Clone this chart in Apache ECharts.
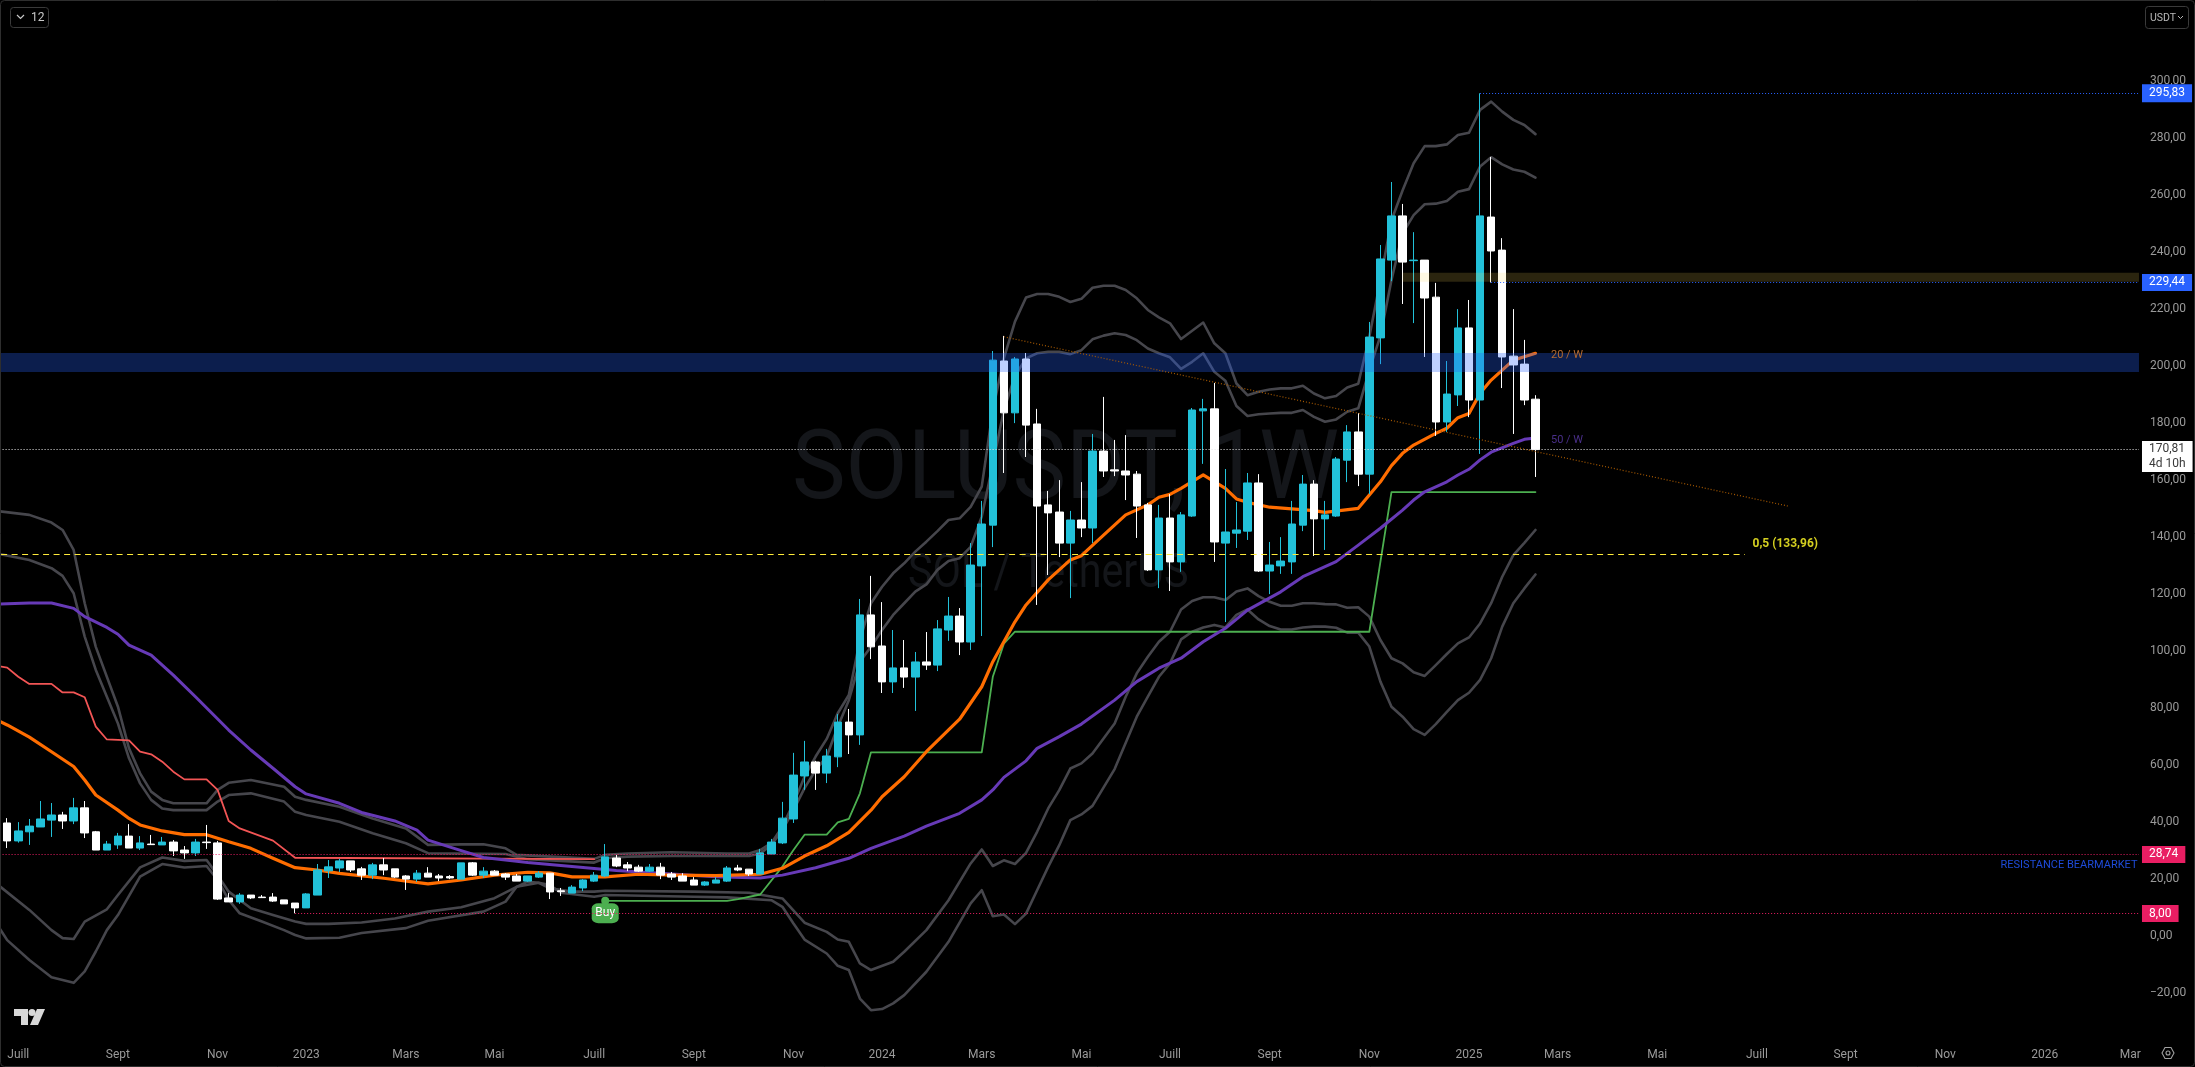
<!DOCTYPE html>
<html>
<head>
<meta charset="utf-8">
<style>html,body{margin:0;padding:0;background:#000;overflow:hidden}#c{width:2195px;height:1067px}</style>
<script src="https://cdn.jsdelivr.net/npm/echarts@6/dist/echarts.min.js"></script>
</head>
<body>
<div id="c"></div>
<script>
const opens=[39.1,32.8,36.0,37.7,40.1,41.9,39.8,44.4,36.0,29.6,
31.4,34.5,30.3,31.7,31.4,32.4,29.6,28.6,32.4,32.1,
12.8,11.4,13.8,13.1,13.1,12.1,11.0,9.3,13.8,22.3,
23.3,25.8,23.0,20.8,24.4,23.0,20.5,19.4,21.5,20.5,
20.3,19.4,25.1,20.8,22.2,21.2,20.5,18.7,20.1,21.5,
15.3,14.5,16.3,18.7,20.5,26.8,24.4,23.6,22.2,23.6,
21.2,20.5,19.1,17.3,18.0,18.7,23.3,22.9,21.2,28.2,
32.1,40.5,55.6,60.5,56.6,62.3,74.5,70.0,112.1,101.2,
88.6,93.5,90.3,95.6,94.5,106.8,111.7,102.6,129.3,143.6,
201.2,183.0,201.9,179.1,150.7,148.2,137.3,145.4,142.6,169.6,
163.0,162.6,161.5,150.7,127.9,146.1,130.7,146.8,183.7,184.4,
137.3,140.8,141.5,158.4,127.5,129.3,130.7,143.6,158.0,145.8,
146.8,166.4,176.3,161.5,209.3,236.6,252.1,236.4,236.6,223.6,
179.8,189.3,212.8,187.5,251.7,240.1,202.9,200.1,187.8];
const closes=[32.8,36.3,38.0,40.5,41.9,39.8,44.4,35.6,29.6,31.7,
34.5,30.3,32.1,31.5,32.4,29.3,28.6,32.4,32.2,12.4,
11.4,13.8,12.8,12.9,11.7,10.7,9.3,14.2,22.6,23.7,
25.8,22.6,20.8,24.4,22.6,20.1,19.4,21.5,20.1,19.8,
19.8,25.1,20.8,22.2,20.8,20.1,18.7,20.5,21.5,14.9,
15.0,16.6,19.1,20.8,27.2,24.0,23.3,22.2,23.6,20.8,
20.1,18.7,17.3,18.4,19.1,23.3,22.6,21.2,28.6,32.4,
40.8,55.9,60.5,56.6,62.6,74.5,70.0,112.1,100.9,88.6,
93.5,90.3,95.6,94.5,107.2,111.7,102.6,129.6,144.0,201.5,
183.0,201.9,178.7,150.3,147.9,137.3,145.4,142.6,169.6,162.6,
162.6,161.2,150.3,127.9,146.1,130.7,147.2,184.0,184.4,137.7,
141.2,141.9,158.4,127.5,129.6,131.0,144.0,158.0,145.8,147.2,
166.8,176.3,161.5,209.6,237.0,252.1,235.9,236.6,223.3,179.8,
189.6,212.8,187.5,252.1,239.8,202.6,199.8,187.5,170.11];
const lows=[30.3,32.2,31.4,37.7,34.2,37.0,38.7,33.8,29.6,29.6,
30.0,30.3,29.6,31.4,31.4,27.5,26.5,27.5,30.0,12.1,
11.4,10.7,12.4,12.8,11.4,10.7,7.4,9.3,13.8,19.8,
21.9,21.9,19.1,19.4,20.8,19.8,15.6,18.4,20.1,18.7,
19.4,19.4,20.5,19.8,20.8,19.1,18.7,18.4,19.8,12.4,
13.5,14.5,15.2,18.4,20.1,23.6,22.2,21.9,21.9,19.4,
19.1,18.7,17.3,17.0,18.0,18.4,22.2,20.5,21.2,28.2,
31.7,39.1,50.7,50.7,53.1,58.7,63.3,66.5,96.6,84.7,
84.7,86.5,78.4,92.8,92.4,103.0,98.0,99.8,104.7,135.9,
161.9,179.4,167.5,115.6,126.1,132.4,118.0,139.4,137.3,160.5,
160.8,152.4,139.1,127.5,121.5,120.5,127.2,146.5,165.1,130.7,
109.6,135.6,138.4,127.2,119.4,126.5,126.5,141.5,132.8,134.9,
146.5,158.7,157.3,154.5,200.1,229.2,221.2,214.5,202.6,174.9,
176.3,185.4,181.5,168.6,228.74,191.7,175.6,185.7,160.5];
const highs=[40.8,39.4,40.5,46.8,46.1,43.0,47.9,46.8,36.3,32.8,
35.6,38.7,34.5,34.9,34.2,33.1,31.0,33.5,38.4,32.8,
14.5,14.5,13.8,13.8,14.5,12.1,11.0,14.5,24.7,26.1,
26.5,25.8,23.7,25.1,26.8,23.0,20.8,22.6,23.6,21.2,
20.8,25.1,25.4,23.6,22.6,21.5,21.2,20.5,22.2,21.5,
16.3,17.3,19.4,21.9,31.7,27.9,25.4,24.4,24.7,25.1,
21.9,21.5,20.1,18.7,20.1,24.0,24.4,22.9,30.0,33.5,
46.5,63.7,67.9,60.9,65.1,77.3,79.1,117.7,125.8,116.6,
106.8,103.3,99.1,106.1,110.3,118.4,114.5,137.3,152.1,204.7,
210.0,202.6,204.0,184.4,155.6,159.4,148.6,158.7,175.6,188.6,
173.5,175.2,162.6,151.4,150.7,154.5,148.2,184.7,187.9,193.5,
163.3,151.7,161.9,161.5,137.7,139.4,152.1,161.2,159.4,152.1,
167.5,178.7,182.9,214.9,241.9,264.0,256.3,246.4,236.6,228.6,
201.2,219.4,222.6,295.13,272.8,244.3,219.4,208.6,189.2];

// indicator lines: [week index, value]
const ema20=[[-1,75.3],[0,73.5],[2,69.2],[4,64.1],[6,58.9],[7,54.2],[8,48.9],[10,43.6],[11,40.7],[12,38.4],[14,36.3],[16,35],[18,35],[20,32.5],[22,30.2],[24,26.7],[26,23.4],[28,22.6],[30,21.4],[34,19.7],[38,17.7],[41,19.1],[44,20.8],[47,21.8],[49,21.6],[51,20.2],[54,20.2],[57,21.1],[60,20.8],[64,20.6],[68,21.1],[70,23.2],[72,27.5],[74,31.1],[76,35.8],[78,43.6],[79,48.3],[81,55.3],[83,64.1],[86,75.5],[88,86.9],[89,95.7],[91,109.7],[92,115.6],[94,124.4],[96,131.4],[97,132.9],[99,140.1],[101,147.2],[103,150.7],[104,153.4],[105,154.4],[106,156.5],[108,161.2],[110,156.5],[111,152.8],[112,151.6],[114,149.9],[116,149.3],[118,148.7],[119,148.1],[122,149.5],[123,154.2],[124,158.8],[125,164.5],[126,168.8],[127,171.7],[129,175.8],[130,177.6],[131,181.3],[132,182.8],[133,189.9],[134,194.5],[135,198],[136,201.5],[137,202.7],[138,203.9]];
const ema50=[[-1,115.9],[2,116.3],[4,116.3],[6,114.4],[7,111.5],[9,107.7],[10,105.3],[11,101.5],[13,98],[15,91],[17,83.4],[20,71.7],[22,64.7],[24,58.3],[26,51.8],[27,49.3],[30,46],[32,42.8],[35,39.8],[37,36.6],[38,33.1],[41,29.4],[43,27],[47,25.2],[51,23.8],[55,22.4],[60,21.2],[64,20.2],[68,19.8],[70,20.8],[73,23.4],[76,26.7],[78,30.2],[81,34.5],[83,38],[86,42.5],[88,47.2],[89,50.7],[90,55.1],[92,60.9],[93,65.3],[95,69.4],[97,73.8],[100,82.2],[102,88.7],[104,93.4],[106,96.9],[108,102.7],[110,107.4],[112,113.8],[115,120.2],[117,125.5],[120,130.8],[122,136.6],[124,142.5],[126,148.9],[127,152.4],[128,155.3],[130,158.8],[131,161.2],[132,163.2],[133,166.5],[134,169.2],[136,172.3],[137,173.7],[138,174.2]];
const resistanceLine=[[-1,94.3],[0,93.6],[1,90.4],[2,87.9],[4,87.9],[5,84.9],[6,84.9],[7,83.2],[8,72.9],[9,68.4],[11,68.1],[12,64.1],[13,63.2],[14,60.6],[15,57.1],[16,54.4],[18,54.4],[19,50.7],[20,39.8],[21,37.2],[24,32.9],[26,26.9],[53,26.4]];
const supportLine=[[54,11.8],[65,11.8],[66,12.4],[68,14],[70,23.8],[71,29.6],[72,35],[74,35],[75,39.3],[76,40.5],[77,49.5],[78,63.9],[88,63.9],[89,90.4],[90,102],[91,106.2],[123,106.2],[125,155.2],[138,155.2]];
const upperOuter=[[-1,148.6],[2,147.2],[4,144.5],[5,141.9],[6,134.9],[7,116.2],[8,100.9],[10,79.9],[11,65.3],[12,56.5],[13,50.1],[14,47.2],[15,46],[18,46],[19,50.7],[20,53.2],[22,54.2],[25,51.8],[26,48.3],[27,47.2],[30,44.8],[33,40.7],[36,37.2],[38,31.4],[41,31.6],[43,31.6],[45,30.2],[46,27.9],[53,26.5],[54,27.9],[56,28.4],[60,28.8],[65,28.4],[67,28.4],[68,29.6],[69,32],[70,37.8],[71,46],[72,55.3],[73,62.4],[74,68.6],[75,77.6],[76,84],[77,103.3],[78,116.2],[79,122],[80,126.7],[81,130.2],[82,134.3],[83,137.8],[84,141.5],[85,145.4],[86,146],[87,150],[88,157.1],[89,184],[90,202.1],[91,215],[92,223.5],[93,224.7],[94,224.7],[95,223.7],[96,221.9],[97,223],[98,226.9],[99,227.6],[100,227.6],[101,226.1],[102,223.2],[103,219.1],[104,216.5],[105,214.4],[106,208.9],[107,211.8],[108,214.7],[109,207.4],[110,203.9],[111,193.3],[112,189.2],[113,190.4],[114,191.2],[115,191.6],[116,191.6],[117,192.5],[118,189.8],[119,188.1],[120,188.9],[121,191.9],[122,193.2],[123,209.7],[124,229.6],[125,250.6],[126,261],[127,270.6],[128,276.6],[129,276.6],[130,277.2],[131,280.5],[132,281.3],[133,289.3],[134,292.2],[135,288.7],[136,285.8],[137,284],[138,280.8]];
const upperInner=[[-1,133.7],[2,131.4],[4,128.5],[5,125.8],[6,119.7],[7,104.5],[8,92.8],[10,74],[11,61.8],[12,53],[13,47.2],[14,44.2],[15,43.6],[18,43.6],[19,46.6],[20,48.9],[22,49.5],[25,46.6],[26,43],[27,41.9],[30,39.5],[33,35.5],[36,32],[38,28.5],[45,28.2],[47,26.4],[53,25.2],[54,26.7],[56,27.3],[60,27.5],[67,27.5],[68,28.4],[69,31.4],[70,36.6],[71,43.6],[72,51.3],[73,57.7],[74,62.4],[75,72.9],[76,82.2],[77,95.7],[78,100.9],[79,106.8],[80,112.1],[81,116.2],[82,120.3],[83,122.8],[84,127.9],[85,131],[86,132],[87,136],[88,146.6],[89,165],[90,184],[91,196],[92,202.1],[93,203.9],[94,204.4],[95,204.4],[96,203.6],[97,205],[98,208.8],[99,210.1],[100,210.9],[101,210.3],[102,208.5],[103,205.6],[104,203.9],[105,202.5],[106,198.4],[107,200.9],[108,203.9],[109,197.4],[110,194.3],[111,185.4],[112,181.9],[113,182.5],[114,182.8],[115,183],[116,183],[117,184],[118,181.6],[119,179.9],[120,180.7],[121,183.4],[122,184.6],[123,198],[124,210],[125,229.6],[126,246],[127,252.4],[128,256.2],[129,256.4],[130,257.3],[131,260.6],[132,261.5],[133,269.4],[134,272.7],[135,270.2],[136,268.4],[137,267.6],[138,265.5]];
const lowerInner=[[-1,17.9],[2,8.6],[4,1.5],[5,-1.3],[6,-1.6],[7,4.5],[9,8.8],[10,13.8],[12,23.5],[14,27],[16,25.8],[18,26.1],[19,20.8],[20,15],[22,9.2],[24,6.8],[26,4.5],[27,3.7],[29,3.7],[32,4.2],[35,5.6],[38,8],[41,9.5],[44,12.7],[46,16.7],[47,18.5],[48,18.1],[49,16.2],[51,15],[53,15],[54,15.3],[62,15],[67,14.6],[70,12.6],[72,4.1],[74,0.9],[75,-1.8],[76,-2.6],[77,-10.2],[78,-12.5],[80,-9.6],[81,-6.1],[83,1.5],[85,12],[87,24.9],[88,29.8],[89,24],[90,26],[91,24.7],[92,28.6],[93,36],[94,44.2],[95,50.6],[96,58.2],[97,60],[98,63.5],[100,74],[101,83.4],[102,91.6],[103,97.4],[104,102.7],[105,106.2],[106,114],[107,117],[108,118.3],[109,118.3],[110,117.3],[111,120.3],[112,121.4],[113,118.7],[114,116.7],[115,115.3],[116,115.3],[117,116.2],[118,116.2],[119,115.9],[120,115.8],[121,114.6],[122,114.8],[123,111.5],[124,103.3],[125,96.9],[126,95.1],[127,92],[128,90.7],[129,94.5],[130,98.4],[131,102.1],[132,104.2],[133,109.1],[134,116.2],[135,125.5],[136,133.1],[137,137.4],[138,141.9]];
const lowerOuter=[[-1,4],[0,-2],[2,-9],[4,-15],[6,-17],[7,-13],[8,-6],[9,1.5],[10,6.8],[12,20.3],[14,24.7],[16,23.5],[18,24],[19,19.1],[20,12.1],[21,7.4],[23,4.5],[25,1.5],[26,-0.2],[27,-1.4],[30,-1.2],[32,0.5],[36,2.2],[38,4.8],[43,8],[45,11.5],[46,16.7],[48,18.1],[49,17.3],[50,14.6],[53,13.2],[54,13.8],[62,13.2],[65,13],[69,12],[70,9.7],[71,3.8],[72,-1.8],[74,-6.7],[75,-11],[76,-12.5],[77,-22.5],[78,-26.6],[79,-26.2],[80,-24.2],[81,-21.3],[83,-13.1],[85,-2.6],[87,10.9],[88,15.5],[89,6.4],[90,7],[91,3.6],[92,7.3],[93,15.5],[94,23.7],[95,31.3],[96,40.1],[97,42.1],[98,45.1],[100,58],[102,76.4],[103,83.4],[104,90.4],[105,95.1],[106,103.5],[107,106.2],[108,107.7],[109,108.6],[110,107.7],[111,112.1],[112,114],[113,110.5],[114,108.2],[115,107],[116,107],[117,107.7],[118,108],[119,108],[120,107.6],[121,105.9],[122,105.9],[123,101],[124,88.7],[125,79.9],[126,76.4],[127,72],[128,70],[129,73.8],[130,78.1],[131,82.2],[132,84.8],[133,89.3],[134,96.9],[135,108],[136,116.2],[137,121.4],[138,126.3]];

const tickWeeks=[1,10,19,27,36,44,53,62,71,79,88,97,105,114,123,132,140,149,158,166,175,184,192];
const tickLabels=['Juill','Sept','Nov','2023','Mars','Mai','Juill','Sept','Nov','2024','Mars','Mai','Juill','Sept','Nov','2025','Mars','Mai','Juill','Sept','Nov','2026','Mars'];
const totalWeeks=194;
// all readings above were taken against the label centres, which sit slightly above the true price level
const READ_OFFSET=0.7;

const CYAN='#22C1D9', GREY='#46464c', AXIS='#9a9a9a';
const LEFT_EDGE=-1.5, RIGHT_EDGE=192.5;

const tickMap={};tickWeeks.forEach((w,k)=>{tickMap[w+1]=tickLabels[k];});
const categories=[];for(let i=0;i<totalWeeks;i++)categories.push(String(i));
const cal=(v)=>+(v+READ_OFFSET).toFixed(2);
const candles=[['-','-','-','-']].concat(opens.map((o,i)=>[cal(o),cal(closes[i]),cal(lows[i]),cal(highs[i])]));

function line(data,color,width,z){
  return {type:'line',xAxisIndex:1,yAxisIndex:0,data:data.map(p=>[p[0],cal(p[1])]),symbol:'none',smooth:false,silent:true,z:z||2,
    lineStyle:{color:color,width:width,join:'round',cap:'round'}};
}
function hLine(from,to,v,color,type,width){
  return [{coord:[from,v],lineStyle:{color:color,type:type,width:width||1}},{coord:[to,v]}];
}
function tag(v,text,bg,fg,pad){
  return {coord:[RIGHT_EDGE,v],symbol:'circle',symbolSize:0,itemStyle:{color:'rgba(0,0,0,0)'},
    label:{show:true,position:'right',distance:3,formatter:text,backgroundColor:bg,color:fg,
      fontFamily:'Roboto',fontSize:12,lineHeight:15,padding:pad,align:'left'}};
}
function note(i,v,text,color,pos,weight,size){
  return {coord:[i,v],symbol:'circle',symbolSize:0,itemStyle:{color:'rgba(0,0,0,0)'},
    label:{show:true,position:pos||'right',distance:0,formatter:text,color:color,fontFamily:'Roboto',
      fontSize:size||12,fontWeight:weight||'normal'}};
}

const option={
  animation:false,backgroundColor:'#000',
  grid:{left:-9.41,top:24.4,width:2148.4,height:1026,containLabel:false,outerBoundsMode:'none'},
  xAxis:[
    {type:'category',data:categories,boundaryGap:true,axisLine:{show:false},axisTick:{show:false},splitLine:{show:false},
     axisLabel:{interval:(idx)=>tickMap[idx]!==undefined,formatter:(v,idx)=>tickMap[idx]||'',
       color:(v,idx)=>/^20/.test(tickMap[idx]||'')?'#b8b8b8':AXIS,fontFamily:'Roboto',fontSize:12,margin:-1,hideOverlap:false}},
    {type:'value',show:false,min:LEFT_EDGE,max:RIGHT_EDGE,splitLine:{show:false}}
  ],
  yAxis:[{type:'value',position:'right',min:-40,max:320,interval:20,
    axisLine:{show:false},axisTick:{show:false},splitLine:{show:false},
    axisLabel:{margin:11,color:AXIS,fontFamily:'Roboto',fontSize:12,
      formatter:(v)=>(v===320||v===-40)?'':(v<0?'\u2212':'')+Math.abs(v).toFixed(2).replace('.',',')}}],
  series:[
    line(upperOuter,GREY,2.6),line(upperInner,GREY,2.6),line(lowerInner,GREY,2.6),line(lowerOuter,GREY,2.6),
    line(resistanceLine,'#F25555',1.8),line(supportLine,'#4CAF50',1.8),
    line(ema50,'#673AB7',3),line(ema20,'#FF6D00',3.2),
    {type:'candlestick',xAxisIndex:0,yAxisIndex:0,z:3,silent:true,barWidth:8,data:candles,
      itemStyle:{color:CYAN,color0:'#fff',borderColor:CYAN,borderColor0:'#fff',borderWidth:1}},
    {type:'line',xAxisIndex:1,yAxisIndex:0,data:[],z:5,silent:true,
      markArea:{silent:true,z:6,data:[
        [{coord:[LEFT_EDGE,204.7],itemStyle:{color:'rgba(41,98,255,0.3)'}},{coord:[RIGHT_EDGE,198]}],
        [{coord:[126,232.9],itemStyle:{color:'rgba(255,220,90,0.17)'}},{coord:[RIGHT_EDGE,229.7]}]
      ]},
      markLine:{silent:true,z:8,symbol:'none',label:{show:false},data:[
        hLine(133,RIGHT_EDGE,295.83,'#2962FF',[1,2]),
        hLine(134,RIGHT_EDGE,229.44,'#2962FF',[1,2]),
        hLine(LEFT_EDGE,RIGHT_EDGE,170.81,'#e8e8e8',[1,2]),
        hLine(LEFT_EDGE,156.9,133.96,'#FFEB3B',[6,4.5],1.2),
        hLine(LEFT_EDGE,RIGHT_EDGE,28.74,'#E91E63',[1,2]),
        hLine(26,RIGHT_EDGE,8,'#E91E63',[1,2]),
        [{coord:[90,210.4],lineStyle:{color:'#A85A00',type:[1,2],width:1.2}},{coord:[160.8,151]}]
      ]},
      markPoint:{silent:true,z:7,data:[
        {coord:[54,12.5],symbol:'circle',symbolSize:8,itemStyle:{color:'#4CAF50'},label:{show:false}},
        {coord:[54,8.1],symbol:'roundRect',symbolSize:[27,20],itemStyle:{color:'#4CAF50'},
          label:{show:true,position:'inside',formatter:'Buy',color:'#fff',fontFamily:'Roboto',fontSize:12}},
        note(139.4,204,'20 / W','#B56A30',null,null,11),
        note(139.4,174.2,'50 / W','#4A2F8A',null,null,11),
        note(157.6,137.8,'0,5 (133,96)','#D4CF20',null,'bold',12),
        note(180,25,'RESISTANCE BEARMARKET','#1E4BD8',null,null,11),
        tag(295.83,'295,83','#2962FF','#fff',[2,7,1,7]),
        tag(229.44,'229,44','#2962FF','#fff',[1,7,1,7]),
        tag(168.4,'170,81\n4d 10h','#fff','#3a3a3a',[1,7,0,7]),
        tag(28.74,'28,74','#E91E63','#fff',[1,7,1,7]),
        tag(8,'8,00','#E91E63','#fff',[1,7,1,7])
      ]}
    }
  ],
  graphic:[
    {type:'text',z:0,silent:true,x:792,y:474,scaleX:0.94,style:{text:'SOLUSDT, 1W',fill:'#14161a',font:'96px Roboto',textVerticalAlign:'middle'}},
    {type:'text',z:0,silent:true,x:908,y:575,scaleX:0.86,style:{text:'SOL / TetherUS',fill:'#14161a',font:'48px Roboto',textVerticalAlign:'middle'}},
    {type:'rect',z:20,silent:true,shape:{x:2141,y:1040,width:54,height:27},style:{fill:'#000'}},
    {type:'rect',z:21,silent:true,shape:{x:0.5,y:0.5,width:2194,height:1066,r:4},style:{fill:'none',stroke:'#2e2e2e',lineWidth:1}},
    {type:'rect',z:21,silent:true,shape:{x:10.5,y:7.5,width:38,height:20,r:3},style:{fill:'none',stroke:'#3a3a3a',lineWidth:1}},
    {type:'polyline',z:21,silent:true,shape:{points:[[17,15],[20.5,18.5],[24,15]]},style:{fill:'none',stroke:'#c8c8c8',lineWidth:1.2}},
    {type:'text',z:21,silent:true,x:31,y:18,style:{text:'12',fill:'#c8c8c8',font:'12px Roboto',textVerticalAlign:'middle'}},
    {type:'rect',z:21,silent:true,shape:{x:2145.5,y:6.5,width:43,height:22,r:3},style:{fill:'none',stroke:'#3a3a3a',lineWidth:1}},
    {type:'text',z:21,silent:true,x:2150,y:18,style:{text:'USDT',fill:'#b8b8b8',font:'10.5px Roboto',textVerticalAlign:'middle'}},
    {type:'polyline',z:21,silent:true,shape:{points:[[2178,16],[2180.5,18.5],[2183,16]]},style:{fill:'none',stroke:'#b8b8b8',lineWidth:1}},
    {type:'polygon',z:21,silent:true,shape:{points:[[14,1009],[28,1009],[28,1025],[21,1025],[21,1016],[14,1016]]},style:{fill:'#d8d8d8'}},
    {type:'circle',z:21,silent:true,shape:{cx:32,cy:1012.5,r:3.5},style:{fill:'#d8d8d8'}},
    {type:'polygon',z:21,silent:true,shape:{points:[[37,1009],[45,1009],[38,1025],[30,1025]]},style:{fill:'#d8d8d8'}},
    {type:'polygon',z:21,silent:true,shape:{points:[[2162,1053],[2165,1047.5],[2171,1047.5],[2174,1053],[2171,1058.5],[2165,1058.5]]},style:{fill:'none',stroke:'#a0a0a0',lineWidth:1.1}},
    {type:'circle',z:21,silent:true,shape:{cx:2168,cy:1053,r:2},style:{fill:'none',stroke:'#a0a0a0',lineWidth:1.1}}
  ]
};
const chart=echarts.init(document.getElementById('c'),null,{renderer:'canvas',width:2195,height:1067});
chart.setOption(option);
</script>
</body>
</html>
